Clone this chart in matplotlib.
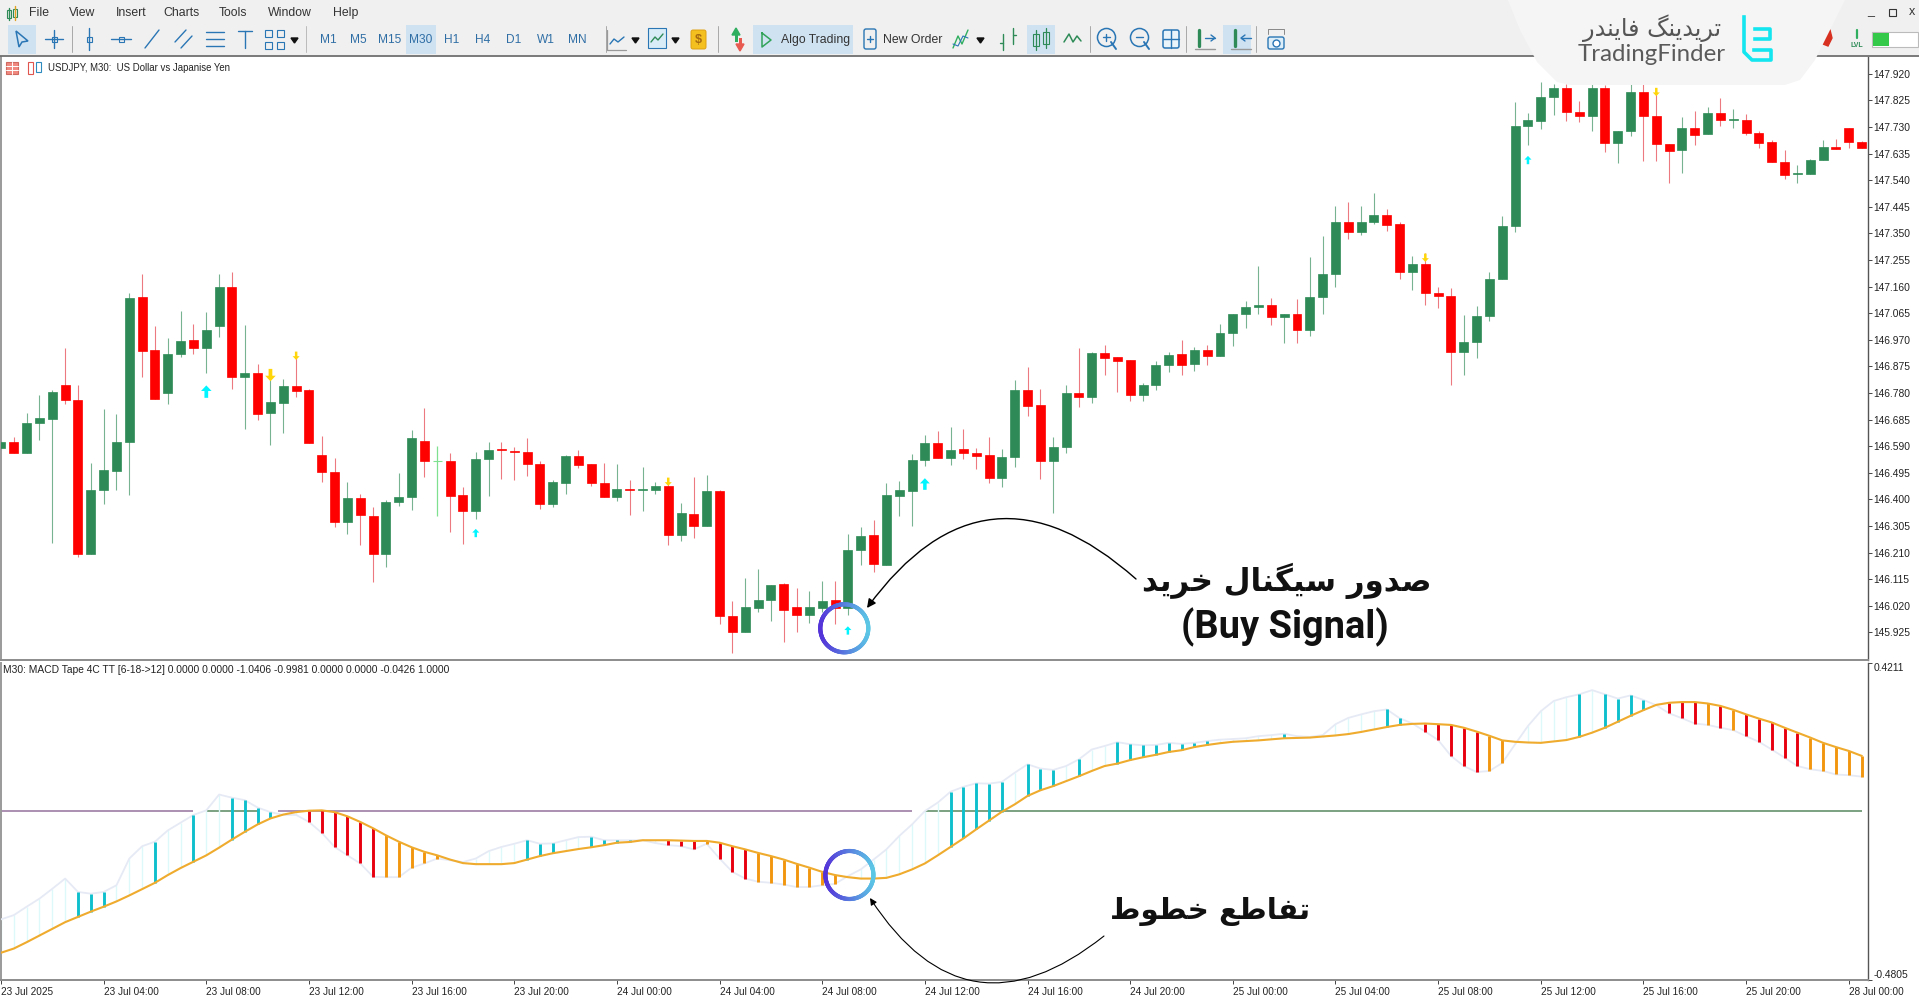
import numpy as np
import matplotlib
matplotlib.use("Agg")
import matplotlib.pyplot as plt
from matplotlib.collections import LineCollection
from matplotlib.patches import Rectangle, Polygon, FancyBboxPatch
from matplotlib.path import Path

plt.rcParams['font.family'] = ['Liberation Sans', 'DejaVu Sans']

opens = [146.583,146.605,146.566,146.674,146.688,146.807,146.754,146.206,146.434,146.501,
         146.605,147.123,146.932,146.780,146.919,146.968,146.940,147.019,147.157,146.836,
         146.852,146.708,146.746,146.804,146.789,146.558,146.499,146.319,146.406,146.341,
         146.204,146.389,146.409,146.610,146.537,146.538,146.414,146.357,146.545,146.579,
         146.574,146.569,146.528,146.384,146.460,146.555,146.526,146.457,146.407,146.437,
         146.433,146.433,146.447,146.274,146.348,146.305,146.430,145.982,145.928,146.012,
         146.040,146.097,146.015,145.987,146.012,146.040,146.011,146.218,146.272,146.167,
         146.411,146.429,146.539,146.601,146.548,146.579,146.567,146.559,146.478,146.551,
         146.792,146.736,146.536,146.586,146.780,146.765,146.924,146.907,146.897,146.773,
         146.809,146.879,146.918,146.882,146.935,146.913,146.993,147.062,147.087,147.095,
         147.051,147.063,147.004,147.122,147.206,147.392,147.355,147.389,147.414,147.382,
         147.212,147.240,147.136,147.128,146.928,146.963,147.055,147.188,147.376,147.732,
         147.752,147.838,147.868,147.783,147.771,147.871,147.674,147.716,147.856,147.769,
         147.669,147.648,147.727,147.704,147.781,147.754,147.756,147.710,147.675,147.605,
         147.561,147.562,147.612,147.657,147.727,147.675]
highs = [146.610,146.622,146.710,146.774,146.790,146.942,146.807,146.531,146.722,146.705,
         147.136,147.206,147.018,146.976,147.073,147.026,147.068,147.206,147.213,147.023,
         146.882,146.826,146.829,146.915,146.796,146.626,146.547,146.462,146.418,146.374,
         146.398,146.493,146.648,146.727,146.592,146.567,146.443,146.569,146.606,146.604,
         146.588,146.619,146.538,146.469,146.558,146.576,146.526,146.531,146.525,146.469,
         146.514,146.461,146.463,146.388,146.479,146.487,146.433,146.037,146.119,146.151,
         146.096,146.103,146.082,146.073,146.110,146.109,146.276,146.300,146.326,146.457,
         146.464,146.563,146.631,146.645,146.660,146.650,146.583,146.622,146.579,146.827,
         146.872,146.793,146.622,146.810,146.942,146.926,146.950,146.910,146.897,146.815,
         146.895,146.928,146.968,146.945,146.950,147.025,147.063,147.110,147.234,147.118,
         147.063,147.116,147.266,147.342,147.447,147.462,147.447,147.494,147.436,147.391,
         147.268,147.281,147.160,147.154,147.057,147.092,147.212,147.412,147.820,147.779,
         147.892,147.883,147.883,147.823,147.883,147.880,147.716,147.883,147.883,147.862,
         147.669,147.767,147.787,147.802,147.835,147.795,147.777,147.717,147.683,147.647,
         147.595,147.617,147.683,147.687,147.727,147.680]
lows = [146.575,146.566,146.566,146.612,146.243,146.741,146.196,146.205,146.384,146.434,
        146.417,146.837,146.758,146.741,146.907,146.919,146.851,146.980,146.795,146.650,
        146.682,146.595,146.638,146.764,146.600,146.462,146.303,146.275,146.237,146.104,
        146.160,146.376,146.363,146.480,146.341,146.285,146.241,146.329,146.412,146.472,
        146.469,146.483,146.366,146.374,146.419,146.511,146.449,146.409,146.395,146.343,
        146.357,146.419,146.237,146.253,146.261,146.305,145.955,145.850,145.928,145.999,
        145.967,145.892,145.928,145.960,145.999,145.955,145.986,146.165,146.140,146.167,
        146.341,146.305,146.519,146.548,146.522,146.545,146.510,146.460,146.446,146.514,
        146.698,146.474,146.353,146.565,146.729,146.746,146.843,146.783,146.750,146.750,
        146.792,146.855,146.845,146.857,146.879,146.913,146.949,147.013,147.063,147.024,
        146.960,146.958,146.984,147.063,147.159,147.329,147.346,147.382,147.358,147.188,
        147.148,147.094,147.082,146.809,146.843,146.906,147.037,147.188,147.355,147.666,
        147.724,147.774,147.752,147.748,147.717,147.642,147.600,147.698,147.607,147.607,
        147.529,147.567,147.666,147.704,147.732,147.727,147.700,147.654,147.604,147.545,
        147.529,147.562,147.612,147.652,147.654,147.654]
closes = [146.604,146.566,146.674,146.689,146.782,146.755,146.205,146.435,146.505,146.605,
          147.121,146.931,146.758,146.920,146.967,146.939,147.005,147.157,146.837,146.852,
          146.704,146.748,146.804,146.788,146.600,146.498,146.319,146.405,146.345,146.204,
          146.391,146.409,146.618,146.537,146.537,146.413,146.357,146.545,146.577,146.575,
          146.569,146.528,146.384,146.461,146.555,146.524,146.457,146.409,146.437,146.433,
          146.436,146.447,146.273,146.350,146.305,146.429,145.984,145.928,146.015,146.040,
          146.096,146.006,145.987,146.015,146.037,146.013,146.219,146.270,146.171,146.417,
          146.435,146.539,146.601,146.548,146.577,146.565,146.556,146.478,146.553,146.792,
          146.735,146.536,146.587,146.780,146.765,146.924,146.905,146.895,146.773,146.810,
          146.879,146.917,146.881,146.935,146.913,146.993,147.063,147.087,147.095,147.051,
          147.063,147.004,147.122,147.206,147.392,147.354,147.392,147.414,147.381,147.212,
          147.240,147.136,147.127,146.928,146.963,147.055,147.188,147.376,147.733,147.754,
          147.836,147.868,147.782,147.770,147.871,147.674,147.716,147.856,147.768,147.668,
          147.645,147.727,147.702,147.781,147.754,147.757,147.710,147.674,147.605,147.560,
          147.564,147.613,147.657,147.652,147.675,147.656]

signal_line = [-0.403,-0.391,-0.373,-0.354,-0.335,-0.316,-0.301,-0.286,-0.272,-0.257,
               -0.240,-0.222,-0.204,-0.182,-0.162,-0.144,-0.126,-0.104,-0.081,-0.059,
               -0.038,-0.021,-0.010,-0.003,0.001,0.002,-0.003,-0.015,-0.031,-0.049,
               -0.069,-0.087,-0.103,-0.116,-0.126,-0.138,-0.148,-0.151,-0.151,-0.151,
               -0.148,-0.138,-0.128,-0.120,-0.114,-0.108,-0.103,-0.097,-0.090,-0.088,
               -0.083,-0.083,-0.083,-0.084,-0.085,-0.085,-0.090,-0.100,-0.109,-0.119,
               -0.128,-0.138,-0.150,-0.161,-0.173,-0.182,-0.188,-0.192,-0.192,-0.190,
               -0.180,-0.166,-0.149,-0.126,-0.102,-0.078,-0.052,-0.027,-0.002,0.019,
               0.043,0.059,0.071,0.085,0.099,0.114,0.128,0.135,0.145,0.153,
               0.160,0.168,0.173,0.182,0.188,0.193,0.197,0.199,0.201,0.204,
               0.207,0.208,0.209,0.212,0.215,0.219,0.225,0.232,0.239,0.245,
               0.248,0.249,0.247,0.245,0.237,0.226,0.214,0.201,0.197,0.195,
               0.194,0.198,0.202,0.211,0.223,0.237,0.254,0.271,0.287,0.302,
               0.308,0.310,0.310,0.306,0.299,0.288,0.275,0.263,0.252,0.237,
               0.223,0.209,0.194,0.182,0.171,0.157]
macd_line = [-0.308,-0.296,-0.272,-0.249,-0.221,-0.192,-0.230,-0.235,-0.230,-0.211,
             -0.135,-0.100,-0.087,-0.055,-0.033,-0.011,0.002,0.047,0.038,0.031,
             0.010,-0.003,-0.011,-0.011,-0.031,-0.062,-0.102,-0.126,-0.149,-0.187,
             -0.188,-0.188,-0.161,-0.149,-0.135,-0.140,-0.145,-0.135,-0.114,-0.102,
             -0.093,-0.083,-0.093,-0.092,-0.083,-0.074,-0.073,-0.083,-0.083,-0.083,
             -0.083,-0.091,-0.097,-0.100,-0.109,-0.093,-0.135,-0.173,-0.192,-0.201,
             -0.204,-0.209,-0.216,-0.216,-0.211,-0.207,-0.185,-0.166,-0.138,-0.109,
             -0.071,-0.038,0.000,0.024,0.055,0.069,0.079,0.078,0.083,0.109,
             0.133,0.121,0.117,0.128,0.147,0.175,0.185,0.196,0.190,0.187,
             0.188,0.194,0.191,0.194,0.199,0.203,0.205,0.207,0.213,0.216,
             0.220,0.213,0.211,0.216,0.247,0.265,0.275,0.284,0.289,0.264,
             0.249,0.226,0.202,0.157,0.128,0.111,0.114,0.137,0.190,0.242,
             0.284,0.313,0.324,0.332,0.344,0.332,0.320,0.329,0.316,0.301,
             0.278,0.264,0.249,0.245,0.237,0.230,0.213,0.197,0.175,0.152,
             0.128,0.119,0.114,0.104,0.102,0.098]

# tape colour groups, bar numbers; every other bar is the pale tape
teal_bars = [6,7,8,12,15,18,19,20,21,41,42,43,46,47,48,49,74,75,76,77,78,80,81,82,84,
             87,88,89,90,91,92,93,94,100,108,109,110,123,125,126,127,128]
red_bars = [24,25,26,27,28,29,52,53,54,56,57,58,111,112,113,114,115,130,131,132,134,
            136,137,138,139,140]
orange_bars = [30,31,32,33,34,55,59,60,61,62,63,64,65,116,117,133,135,141,142,143,144,145]

buy_bars = [16,37,66,72,119]
buy_prices = [146.785,146.280,145.932,146.455,147.612]
sell_bars = [21,23,52,111,129]
sell_prices = [146.844,146.913,146.463,147.263,147.855]

price_ticks = [147.920,147.825,147.730,147.635,147.540,147.445,147.350,147.255,147.160,147.065,
               146.970,146.875,146.780,146.685,146.590,146.495,146.400,146.305,146.210,146.115,
               146.020,145.925]
time_labels = ['23 Jul 2025','23 Jul 04:00','23 Jul 08:00','23 Jul 12:00','23 Jul 16:00','23 Jul 20:00',
               '24 Jul 00:00','24 Jul 04:00','24 Jul 08:00','24 Jul 12:00','24 Jul 16:00','24 Jul 20:00',
               '25 Jul 00:00','25 Jul 04:00','25 Jul 08:00','25 Jul 12:00','25 Jul 16:00','25 Jul 20:00',
               '28 Jul 00:00']
menu_items = ['File','View','Insert','Charts','Tools','Window','Help']
timeframes = ['M1','M5','M15','M30','H1','H4','D1','W1','MN']

W, H = 1919, 996
fig = plt.figure(figsize=(W/100, H/100), dpi=100, facecolor='white')

def px_axes(left, top, right, bottom):
    return fig.add_axes([left/W, 1-bottom/H, (right-left)/W, (bottom-top)/H])

bars = np.arange(len(closes))
o, h, l, c = map(np.array, (opens, highs, lows, closes))
text_c = '#222222'

# price panel
ax = px_axes(1, 57, 1868, 660)
ax.set_xlim(0, 145.5)
ax.set_ylim(145.8265, 147.980)
up = c > o
down = c < o
flat = c == o
ax.vlines(bars[up], l[up], h[up], color='#2e8b57', lw=0.8, alpha=0.65)
ax.vlines(bars[down], l[down], h[down], color='#e0202c', lw=0.8, alpha=0.6)
ax.vlines(bars[flat], l[flat], h[flat], color='#7fe08f', lw=0.9)
ax.hlines(c[flat], bars[flat]-0.35, bars[flat]+0.35, color='#7fe08f', lw=0.8)
ax.bar(bars[up], (c-o)[up], bottom=o[up], width=0.7, color='#2e8b57', linewidth=0.5, edgecolor='#2e8b57', zorder=3)
ax.bar(bars[down], (o-c)[down], bottom=c[down], width=0.7, color='#ff0000', linewidth=0.5, edgecolor='#ff0000', zorder=3)

up_arrow = Path([(0,1),(-.85,.1),(-.3,.1),(-.3,-1),(.3,-1),(.3,.1),(.85,.1),(0,1)])
down_arrow = Path([(0,-1),(-.85,-.1),(-.3,-.1),(-.3,1),(.3,1),(.3,-.1),(.85,-.1),(0,-1)])
ax.scatter(buy_bars, buy_prices, marker=up_arrow, s=[80,36,36,70,36], color='#00f5ff', linewidths=0, zorder=4)
ax.scatter(sell_bars, sell_prices, marker=down_arrow, s=[80,36,36,36,36], color='#ffd60a', linewidths=0, zorder=4)

ax.set_xticks([])
ax.yaxis.tick_right()
ax.set_yticks(price_ticks)
ax.set_yticklabels([f'{p:.3f}' for p in price_ticks])
ax.tick_params(axis='y', length=3, width=0.7, pad=0.8, labelsize=7.4, labelcolor=text_c, color='#444444')

# macd tape panel
ax2 = px_axes(1, 663, 1868, 980)
ax2.set_xlim(0, 145.5)
ax2.set_ylim(-0.4805, 0.4211)
ax2.hlines(0, 0, 15, color='#a587ad', lw=1.3)
ax2.hlines(0, 16, 20, color='#6f9a77', lw=1.3)
ax2.hlines(0, 21.6, 71, color='#a587ad', lw=1.3)
ax2.hlines(0, 72, 145, color='#6f9a77', lw=1.3)
ms = np.array(macd_line)
sg = np.array(signal_line)
pale = [i for i in bars if i not in teal_bars + red_bars + orange_bars]
ax2.vlines(pale, ms[pale], sg[pale], color='#def9fa', lw=1.0, zorder=2)
ax2.plot(bars, ms, color='#e6eaf5', lw=1.3, zorder=3)
ax2.vlines(teal_bars, ms[teal_bars], sg[teal_bars], color='#0fc0cc', lw=2.1, zorder=4)
ax2.vlines(red_bars, ms[red_bars], sg[red_bars], color='#e8000f', lw=2.1, zorder=4)
ax2.vlines(orange_bars, ms[orange_bars], sg[orange_bars], color='#f2960f', lw=2.1, zorder=4)
ax2.plot(bars, sg, color='#efab2d', lw=1.5, zorder=5)
ax2.set_xticks(np.arange(0, 145, 8))
ax2.set_xticklabels(time_labels, ha='left')
ax2.yaxis.tick_right()
ax2.set_yticks([-0.4805, 0.4211])
ax2.set_yticklabels(['-0.4805', '0.4211'])
ax2.get_yticklabels()[0].set_va('bottom')
ax2.get_yticklabels()[1].set_va('top')
ax2.tick_params(axis='x', length=3, width=0.7, pad=1.8, labelsize=7.2, labelcolor=text_c, color='#444444')
ax2.tick_params(axis='y', length=3, width=0.7, pad=0.8, labelsize=7.4, labelcolor=text_c, color='#444444')

for a in (ax, ax2):
    a.spines['top'].set_visible(False)
    a.spines['left'].set_color('#9a9a9a')
    a.spines['left'].set_linewidth(1.4)
    a.spines['right'].set_color('#555555')
    a.spines['right'].set_linewidth(1.0)
    a.spines['bottom'].set_color('#8c8c8c')
    a.spines['bottom'].set_linewidth(1.4)

# overlay in pixels: toolbar, logo and annotations
ov = fig.add_axes([0, 0, 1, 1], zorder=10)
ov.set_xlim(0, W)
ov.set_ylim(H, 0)
ov.axis('off')

def ln(xs, ys, color='#2a76b5', lw=1.0):
    ov.plot(xs, ys, color=color, lw=lw, solid_capstyle='round')

def box(x, y, w, h, color, **kw):
    ov.add_patch(Rectangle((x, y), w, h, facecolor=color, edgecolor=kw.pop('edge', 'none'), lw=kw.pop('lw', 0.8), **kw))

def label(x, y, s, size=8.8, color=text_c, ha='center', **kw):
    ov.text(x, y, s, fontsize=size, color=color, ha=ha, va='center', **kw)

box(0, 0, W, 55, '#f0f0f0')
ln([0, W], [55.5, 55.5], '#6e6e6e', 1.3)
for x, w in ((8, 28), (406, 30), (753, 100), (1027, 28), (1223, 28)):
    box(x, 25, w, 29, '#cfe2f2')
for x in (72, 606, 718, 1090, 1186, 1256):
    ln([x, x], [26, 52], '#a8a8a8', 0.7)
ln([306, 306], [26, 52], '#bbbbbb', 0.7)

# app icon and menu
ln([9, 9], [8, 20], '#2e8b57', 1.0)
box(7, 10, 4, 8, 'none', edge='#2e8b57')
ln([15, 15], [6, 20], '#e0a020', 1.0)
box(13, 9, 4, 8, 'none', edge='#2e8b57')
for x, s in zip((39, 82, 131, 182, 233, 290, 346), menu_items):
    label(x, 13, s, color='#333333')

# drawing tools
ov.add_patch(Polygon([(16,31),(19,47),(22,42),(28,41)], closed=True, fill=False, edgecolor='#2a76b5', lw=1.1))
ln([54,54],[30,48]); ln([45,63],[39,39]); box(51.5,36.5,5,5,'#f0f0f0',edge='#2a76b5')
ln([89,89],[28,50]); box(86.5,36.5,5,5,'#f0f0f0',edge='#2a76b5')
ln([111,131],[39,39]); box(118.5,36.5,5,5,'#f0f0f0',edge='#2a76b5')
ln([145,159],[48,30]); ln([175,186],[42,30]); ln([181,192],[48,36])
ln([206,224],[32,32]); ln([206,224],[39,39]); ln([206,224],[46,46])
ln([238,252],[31,31]); ln([245,245],[31,48])
for x, y in ((268,33),(280,33),(268,45),(280,45)):
    box(x-3.5, y-3.5, 7, 7, 'none', edge='#2a76b5')
ov.fill([291,298,294.5],[38,38,43],color='#111111')
for x, s in zip((328, 358, 390, 421, 452, 483, 514, 546, 577), timeframes):
    label(x, 40, s, size=8.6, color='#2f6ea5')

# chart type icons
ln([607,607,626],[30,50,50],'#999999',0.9); ln([610,614,618,624],[44,39,42,37],'#2a76b5',1.0)
ov.fill([632,639,635.5],[38,38,43],color='#111111')
box(648,28,18,20,'#d8ecf7',edge='#2a76b5')
ln([651,655,658,663],[42,37,40,34],'#2e8b57',1.0)
ov.fill([672,679,675.5],[38,38,43],color='#111111')
ov.add_patch(FancyBboxPatch((691,30),15,19,boxstyle='round,pad=0,rounding_size=2',facecolor='#f3c020',edgecolor='#e0a010',lw=0.7))
label(698.5,39.5,'$',size=9,color='#a86a10',weight='bold')
ov.fill([732,736,740],[35,28,35],color='#2fae5f'); box(734.5,35,3,7,'#2fae5f')
ov.fill([736,740,744],[44,51,44],color='#e85a50'); box(738.5,38,3,6,'#e85a50')
ov.plot([762,762,771,762],[33,47,40,33],color='#33a35a',lw=1.1)
label(781,40,'Algo Trading',ha='left',color='#333333')
ov.add_patch(FancyBboxPatch((864,29),12,20,boxstyle='round,pad=0,rounding_size=2',fill=False,edgecolor='#2a76b5',lw=1.0))
ln([867,873],[39,39]); ln([870,870],[36,42])
label(883,40,'New Order',ha='left',color='#333333')
ln([953,958,962,968],[48,36,44,30],'#2fae5f',1.0); ln([953,958,963,968],[44,46,36,38],'#2a76b5',0.8)
ov.fill([977,984,980.5],[38,38,43],color='#111111')

# period and zoom icons
ln([1003,1003],[34,50],'#2e8b57',1.0); ln([1000,1003],[43,43],'#2e8b57',1.0)
ln([1013,1013],[28,44],'#2e8b57',1.0); ln([1013,1016],[35,35],'#2e8b57',1.0)
for x, y0, y1 in ((1036,30,50),(1046,28,48)):
    ln([x,x],[y0,y1],'#2e8b57',0.9); box(x-3,y0+4,6,y1-y0-8,'#cfe2f2',edge='#2e8b57')
ln([1064,1069,1073,1077,1081],[42,34,42,36,41],'#2e8b57',1.1)
for x, s in ((1106,1),(1139,0)):
    ov.plot([x],[37],marker='o',ms=13,mfc='none',mec='#2a76b5',mew=1.1)
    ln([x+5,x+10],[42,49],'#2a76b5',1.4); ln([x-3.5,x+3.5],[37,37])
    if s:
        ln([x,x],[33.5,40.5])
ov.add_patch(FancyBboxPatch((1163,30),16,18,boxstyle='round,pad=0,rounding_size=2',facecolor='#e8f3fa',edgecolor='#2a76b5',lw=1.1))
ln([1171,1171],[30,48]); ln([1163,1179],[39,39])
for x, hs in ((1199,1),(1235,0)):
    ln([x,x],[30,46],'#2e8b57',2.4)
    ln([x+6,x+16] if hs else [x+16,x+6],[38,38],'#2a76b5',1.0)
    ln([x-4,x+16],[49,49],'#999999',1.0)
    ln([x+12 if hs else x+10,x+16 if hs else x+6,x+12 if hs else x+10],[35,38,41],'#2a76b5',1.0)
ov.add_patch(FancyBboxPatch((1268,37),16,12,boxstyle='round,pad=0,rounding_size=2',facecolor='#ddeef8',edgecolor='#2a76b5',lw=1.0))
ov.plot([1276],[43],marker='o',ms=5,mfc='#ffffff',mec='#2a76b5',mew=1.0)
ln([1268,1268,1284,1284],[34,29,29,34],'#888888',0.7)

# right side of the toolbar
ov.fill([1825,1830,1832,1828,1823],[30,30,38,46,44],color='#d83020')
ln([1857,1857],[30,38],'#2fae5f',1.6)
label(1857,45,'LVL',size=5,color='#2e8b57',weight='bold')
box(1872,32,46,15,'#ffffff',edge='#bbbbbb')
box(1873,33,16,13,'#35c94a')
label(1871,11,'_',size=9,color='#333333')
box(1889,9,7,7,'none',edge='#333333')
label(1912,12,'x',size=9,color='#333333')

# logo
ov.add_patch(Polygon([(1508,0),(1520,30),(1537,62),(1557,82),(1570,85),(1785,85),(1800,80),(1815,60),
                      (1830,30),(1845,0)], closed=True, facecolor='#f5f5f5', edgecolor='none', zorder=5))
logo_fa = '\ufe97\ufeae\ufbfe\ufeaa\ufbfe\ufee8\ufb93 \ufed3\ufe8e\ufbfe\ufee8\ufeaa\ufead'[::-1]
ov.text(1652, 28, logo_fa, fontsize=17.2, color='#555555', ha='center', va='center', family='DejaVu Sans', zorder=6)
ov.text(1652, 54, 'TradingFinder', fontsize=17.3, color='#5a5a5a', ha='center', va='center', family='Lato', zorder=6)
for xs, ys in (([1744,1744,1752,1771,1771,1754],[17,52,60,60,50,50]), ([1755,1770,1770,1755],[29,29,39,39])):
    ov.plot(xs, ys, color='#14e6f0', lw=2.6, zorder=6)

# chart captions
box(6,62,12,12,'#f08a80',edge='#cf6a60')
ln([6,18],[66,66],'#ffffff',0.7); ln([6,18],[70,70],'#ffffff',0.7); ln([12,12],[62,74],'#ffffff',0.7)
box(28,62,5,12,'none',edge='#e0564e'); box(36,62,5,10,'none',edge='#2e8bc0')
label(47.5,68,'USDJPY, M30:  US Dollar vs Japanise Yen',size=6.9,ha='left')
label(3,670,'M30: MACD Tape 4C TT [6-18->12] 0.0000 0.0000 -1.0406 -0.9981 0.0000 0.0000 -0.0426 1.0000',size=7.4,ha='left')

# gradient rings round the signal
theta = np.linspace(0, 2*np.pi, 181)
for cx, cy in ((844.3, 628.3), (849.4, 875.0)):
    xs = cx + 24*np.cos(theta)
    ys = cy + 24*np.sin(theta)
    segs = np.stack([np.column_stack([xs[:-1], ys[:-1]]), np.column_stack([xs[1:], ys[1:]])], axis=1)
    t = (xs[:-1] - xs.min()) / (xs.max() - xs.min())
    left_c = np.array([0.33, 0.20, 0.85])
    right_c = np.array([0.36, 0.78, 0.90])
    cols = left_c + np.outer(t, right_c - left_c)
    ov.add_collection(LineCollection(segs, colors=cols, linewidths=3.0, capstyle='round', zorder=7))

# callouts
ov.annotate('', xy=(867, 608), xytext=(1136, 579), zorder=7,
            arrowprops=dict(arrowstyle='-|>', color='black', lw=1.0, mutation_scale=13, shrinkA=0, shrinkB=0,
                            connectionstyle='arc3,rad=0.55'))
ov.annotate('', xy=(870, 898), xytext=(1104, 936), zorder=7,
            arrowprops=dict(arrowstyle='-|>', color='black', lw=0.8, mutation_scale=10, shrinkA=0, shrinkB=0,
                            connectionstyle='arc3,rad=-0.55'))

# persian text, shaped by hand since matplotlib does not join or reorder it
buy_fa = '\ufebb\ufeaa\ufeed\ufead \ufeb3\ufbff\ufb95\ufee8\ufe8e\ufedd \ufea7\ufeae\ufbfe\ufeaa'[::-1]
cross_fa = '\ufe97\ufed4\ufe8e\ufec3\ufeca \ufea7\ufec4\ufeee\ufec1'[::-1]
ov.text(1287, 581, buy_fa, fontsize=22.2, weight='bold', color='#111111', ha='center', va='center', family='DejaVu Sans', zorder=8)
ov.text(1285, 627, '(Buy Signal)', fontsize=27.4, weight='bold', color='#111111', ha='center', va='center', family='Roboto', zorder=8)
ov.text(1210, 911, cross_fa, fontsize=21.2, weight='bold', color='#111111', ha='center', va='center', family='DejaVu Sans', zorder=8)

fig.savefig('out.png', dpi=100)
